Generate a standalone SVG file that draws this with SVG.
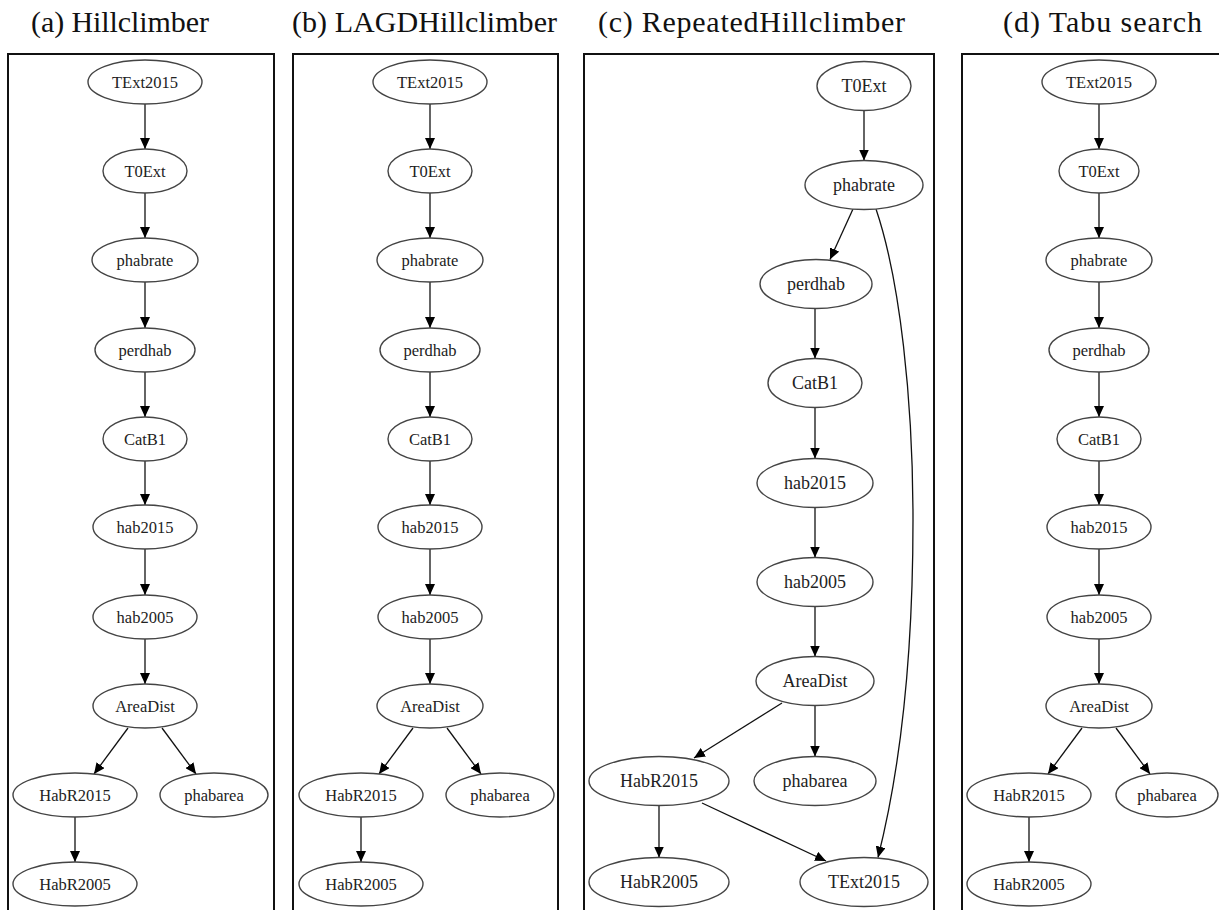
<svg xmlns="http://www.w3.org/2000/svg" width="1219" height="910" viewBox="0 0 1219 910">
<defs>
<marker id="ah" markerUnits="userSpaceOnUse" markerWidth="11" markerHeight="10" refX="11" refY="5" orient="auto">
<path d="M0,0 L11,5 L0,10 z" fill="#000"/>
</marker>
<style>
.title{font-family:'Liberation Serif','DejaVu Serif',serif;font-size:30px;fill:#111;}
.box{fill:none;stroke:#111;stroke-width:2;}
.n ellipse{fill:#fff;stroke:#444;stroke-width:1.4;}
.n text{font-family:'Liberation Serif','DejaVu Serif',serif;font-size:16.5px;fill:#222;text-anchor:middle;}
.c ellipse{fill:#fff;stroke:#444;stroke-width:1.4;}
.c text{font-family:'Liberation Serif','DejaVu Serif',serif;font-size:18px;fill:#222;text-anchor:middle;}
.e line,.e path{stroke:#111;stroke-width:1.3;fill:none;marker-end:url(#ah);}
</style>
</defs>
<rect width="1219" height="910" fill="#fff"/>

<text class="title" font-family="Liberation Serif" x="31" y="32" textLength="178" lengthAdjust="spacing">(a) Hillclimber</text>
<text class="title" font-family="Liberation Serif" x="292" y="32" textLength="265" lengthAdjust="spacing">(b) LAGDHillclimber</text>
<text class="title" font-family="Liberation Serif" x="598" y="32" textLength="307" lengthAdjust="spacing">(c) RepeatedHillclimber</text>
<text class="title" font-family="Liberation Serif" x="1003" y="32" textLength="199" lengthAdjust="spacing">(d) Tabu search</text>

<rect class="box" x="8" y="54" width="266" height="880"/>
<rect class="box" x="293" y="54" width="265" height="880"/>
<rect class="box" x="584" y="54" width="350" height="880"/>
<rect class="box" x="962" y="54" width="280" height="880"/>

<g id="connectors" class="e">
<line x1="145" y1="104" x2="145" y2="149"/>
<line x1="145" y1="193" x2="145" y2="238"/>
<line x1="145" y1="282" x2="145" y2="328"/>
<line x1="145" y1="372" x2="145" y2="417"/>
<line x1="145" y1="461" x2="145" y2="505"/>
<line x1="145" y1="549" x2="145" y2="595"/>
<line x1="145" y1="639" x2="145" y2="684"/>
<line x1="128" y1="728" x2="94" y2="774"/>
<line x1="162" y1="728" x2="196" y2="774"/>
<line x1="75" y1="817" x2="75" y2="862"/>
<line x1="430" y1="104" x2="430" y2="149"/>
<line x1="430" y1="193" x2="430" y2="238"/>
<line x1="430" y1="282" x2="430" y2="328"/>
<line x1="430" y1="372" x2="430" y2="417"/>
<line x1="430" y1="461" x2="430" y2="505"/>
<line x1="430" y1="549" x2="430" y2="595"/>
<line x1="430" y1="639" x2="430" y2="684"/>
<line x1="413" y1="728" x2="379" y2="774"/>
<line x1="447" y1="728" x2="481" y2="774"/>
<line x1="361" y1="817" x2="361" y2="862"/>
<line x1="864" y1="110.5" x2="864" y2="160.5"/>
<line x1="853" y1="209" x2="830" y2="259.5"/>
<line x1="815" y1="308.5" x2="815" y2="358.5"/>
<line x1="815" y1="407.5" x2="815" y2="458.5"/>
<line x1="815" y1="507.5" x2="815" y2="557.5"/>
<line x1="815" y1="606.5" x2="815" y2="656.5"/>
<line x1="782" y1="703" x2="694" y2="758"/>
<line x1="815" y1="705.5" x2="815" y2="756.5"/>
<line x1="659" y1="805.5" x2="659" y2="857.5"/>
<line x1="702" y1="803" x2="826" y2="861"/>
<path d="M876,209 C900,280 913,400 913,520 C913,680 895,790 878,857.5"/>
<line x1="1099" y1="104" x2="1099" y2="149"/>
<line x1="1099" y1="193" x2="1099" y2="238"/>
<line x1="1099" y1="282" x2="1099" y2="328"/>
<line x1="1099" y1="372" x2="1099" y2="417"/>
<line x1="1099" y1="461" x2="1099" y2="505"/>
<line x1="1099" y1="549" x2="1099" y2="595"/>
<line x1="1099" y1="639" x2="1099" y2="684"/>
<line x1="1082" y1="728" x2="1048" y2="774"/>
<line x1="1116" y1="728" x2="1150" y2="774"/>
<line x1="1029" y1="817" x2="1029" y2="862"/>
</g>

<g id="a-TExt2015" class="n"><ellipse cx="145" cy="82" rx="57" ry="22"/><text x="145" y="87.5">TExt2015</text></g>
<g id="a-T0Ext" class="n"><ellipse cx="145" cy="171" rx="42" ry="22"/><text x="145" y="176.5">T0Ext</text></g>
<g id="a-phabrate" class="n"><ellipse cx="145" cy="260" rx="53" ry="22"/><text x="145" y="265.5">phabrate</text></g>
<g id="a-perdhab" class="n"><ellipse cx="145" cy="350" rx="50" ry="22"/><text x="145" y="355.5">perdhab</text></g>
<g id="a-CatB1" class="n"><ellipse cx="145" cy="439" rx="42" ry="22"/><text x="145" y="444.5">CatB1</text></g>
<g id="a-hab2015" class="n"><ellipse cx="145" cy="527" rx="52" ry="22"/><text x="145" y="532.5">hab2015</text></g>
<g id="a-hab2005" class="n"><ellipse cx="145" cy="617" rx="52" ry="22"/><text x="145" y="622.5">hab2005</text></g>
<g id="a-AreaDist" class="n"><ellipse cx="145" cy="706" rx="52" ry="22"/><text x="145" y="711.5">AreaDist</text></g>
<g id="a-HabR2015" class="n"><ellipse cx="75" cy="795" rx="62" ry="22"/><text x="75" y="800.5">HabR2015</text></g>
<g id="a-phabarea" class="n"><ellipse cx="214" cy="795" rx="54" ry="22"/><text x="214" y="800.5">phabarea</text></g>
<g id="a-HabR2005" class="n"><ellipse cx="75" cy="884" rx="62" ry="22"/><text x="75" y="889.5">HabR2005</text></g>

<g id="b-TExt2015" class="n"><ellipse cx="430" cy="82" rx="57" ry="22"/><text x="430" y="87.5">TExt2015</text></g>
<g id="b-T0Ext" class="n"><ellipse cx="430" cy="171" rx="42" ry="22"/><text x="430" y="176.5">T0Ext</text></g>
<g id="b-phabrate" class="n"><ellipse cx="430" cy="260" rx="53" ry="22"/><text x="430" y="265.5">phabrate</text></g>
<g id="b-perdhab" class="n"><ellipse cx="430" cy="350" rx="50" ry="22"/><text x="430" y="355.5">perdhab</text></g>
<g id="b-CatB1" class="n"><ellipse cx="430" cy="439" rx="42" ry="22"/><text x="430" y="444.5">CatB1</text></g>
<g id="b-hab2015" class="n"><ellipse cx="430" cy="527" rx="52" ry="22"/><text x="430" y="532.5">hab2015</text></g>
<g id="b-hab2005" class="n"><ellipse cx="430" cy="617" rx="52" ry="22"/><text x="430" y="622.5">hab2005</text></g>
<g id="b-AreaDist" class="n"><ellipse cx="430" cy="706" rx="53" ry="22"/><text x="430" y="711.5">AreaDist</text></g>
<g id="b-HabR2015" class="n"><ellipse cx="361" cy="795" rx="62" ry="22"/><text x="361" y="800.5">HabR2015</text></g>
<g id="b-phabarea" class="n"><ellipse cx="500" cy="795" rx="54" ry="22"/><text x="500" y="800.5">phabarea</text></g>
<g id="b-HabR2005" class="n"><ellipse cx="361" cy="884" rx="62" ry="22"/><text x="361" y="889.5">HabR2005</text></g>

<g id="c-T0Ext" class="c"><ellipse cx="864" cy="86" rx="47" ry="24.5"/><text x="864" y="92">T0Ext</text></g>
<g id="c-phabrate" class="c"><ellipse cx="864" cy="185" rx="59" ry="24.5"/><text x="864" y="191">phabrate</text></g>
<g id="c-perdhab" class="c"><ellipse cx="816" cy="284" rx="56" ry="24.5"/><text x="816" y="290">perdhab</text></g>
<g id="c-CatB1" class="c"><ellipse cx="815" cy="383" rx="47" ry="24.5"/><text x="815" y="389">CatB1</text></g>
<g id="c-hab2015" class="c"><ellipse cx="815" cy="483" rx="58" ry="24.5"/><text x="815" y="489">hab2015</text></g>
<g id="c-hab2005" class="c"><ellipse cx="815" cy="582" rx="58" ry="24.5"/><text x="815" y="588">hab2005</text></g>
<g id="c-AreaDist" class="c"><ellipse cx="815" cy="681" rx="59" ry="24.5"/><text x="815" y="687">AreaDist</text></g>
<g id="c-HabR2015" class="c"><ellipse cx="659" cy="781" rx="70" ry="24.5"/><text x="659" y="787">HabR2015</text></g>
<g id="c-phabarea" class="c"><ellipse cx="815" cy="781" rx="61" ry="24.5"/><text x="815" y="787">phabarea</text></g>
<g id="c-HabR2005" class="c"><ellipse cx="659" cy="882" rx="70" ry="24.5"/><text x="659" y="888">HabR2005</text></g>
<g id="c-TExt2015" class="c"><ellipse cx="864" cy="882" rx="64" ry="24.5"/><text x="864" y="888">TExt2015</text></g>

<g id="d-TExt2015" class="n"><ellipse cx="1099" cy="82" rx="57" ry="22"/><text x="1099" y="87.5">TExt2015</text></g>
<g id="d-T0Ext" class="n"><ellipse cx="1099" cy="171" rx="40" ry="22"/><text x="1099" y="176.5">T0Ext</text></g>
<g id="d-phabrate" class="n"><ellipse cx="1099" cy="260" rx="53" ry="22"/><text x="1099" y="265.5">phabrate</text></g>
<g id="d-perdhab" class="n"><ellipse cx="1099" cy="350" rx="50" ry="22"/><text x="1099" y="355.5">perdhab</text></g>
<g id="d-CatB1" class="n"><ellipse cx="1099" cy="439" rx="42" ry="22"/><text x="1099" y="444.5">CatB1</text></g>
<g id="d-hab2015" class="n"><ellipse cx="1099" cy="527" rx="52" ry="22"/><text x="1099" y="532.5">hab2015</text></g>
<g id="d-hab2005" class="n"><ellipse cx="1099" cy="617" rx="52" ry="22"/><text x="1099" y="622.5">hab2005</text></g>
<g id="d-AreaDist" class="n"><ellipse cx="1099" cy="706" rx="53" ry="22"/><text x="1099" y="711.5">AreaDist</text></g>
<g id="d-HabR2015" class="n"><ellipse cx="1029" cy="795" rx="62" ry="22"/><text x="1029" y="800.5">HabR2015</text></g>
<g id="d-phabarea" class="n"><ellipse cx="1167" cy="795" rx="51" ry="22"/><text x="1167" y="800.5">phabarea</text></g>
<g id="d-HabR2005" class="n"><ellipse cx="1029" cy="884" rx="62" ry="22"/><text x="1029" y="889.5">HabR2005</text></g>
</svg>
